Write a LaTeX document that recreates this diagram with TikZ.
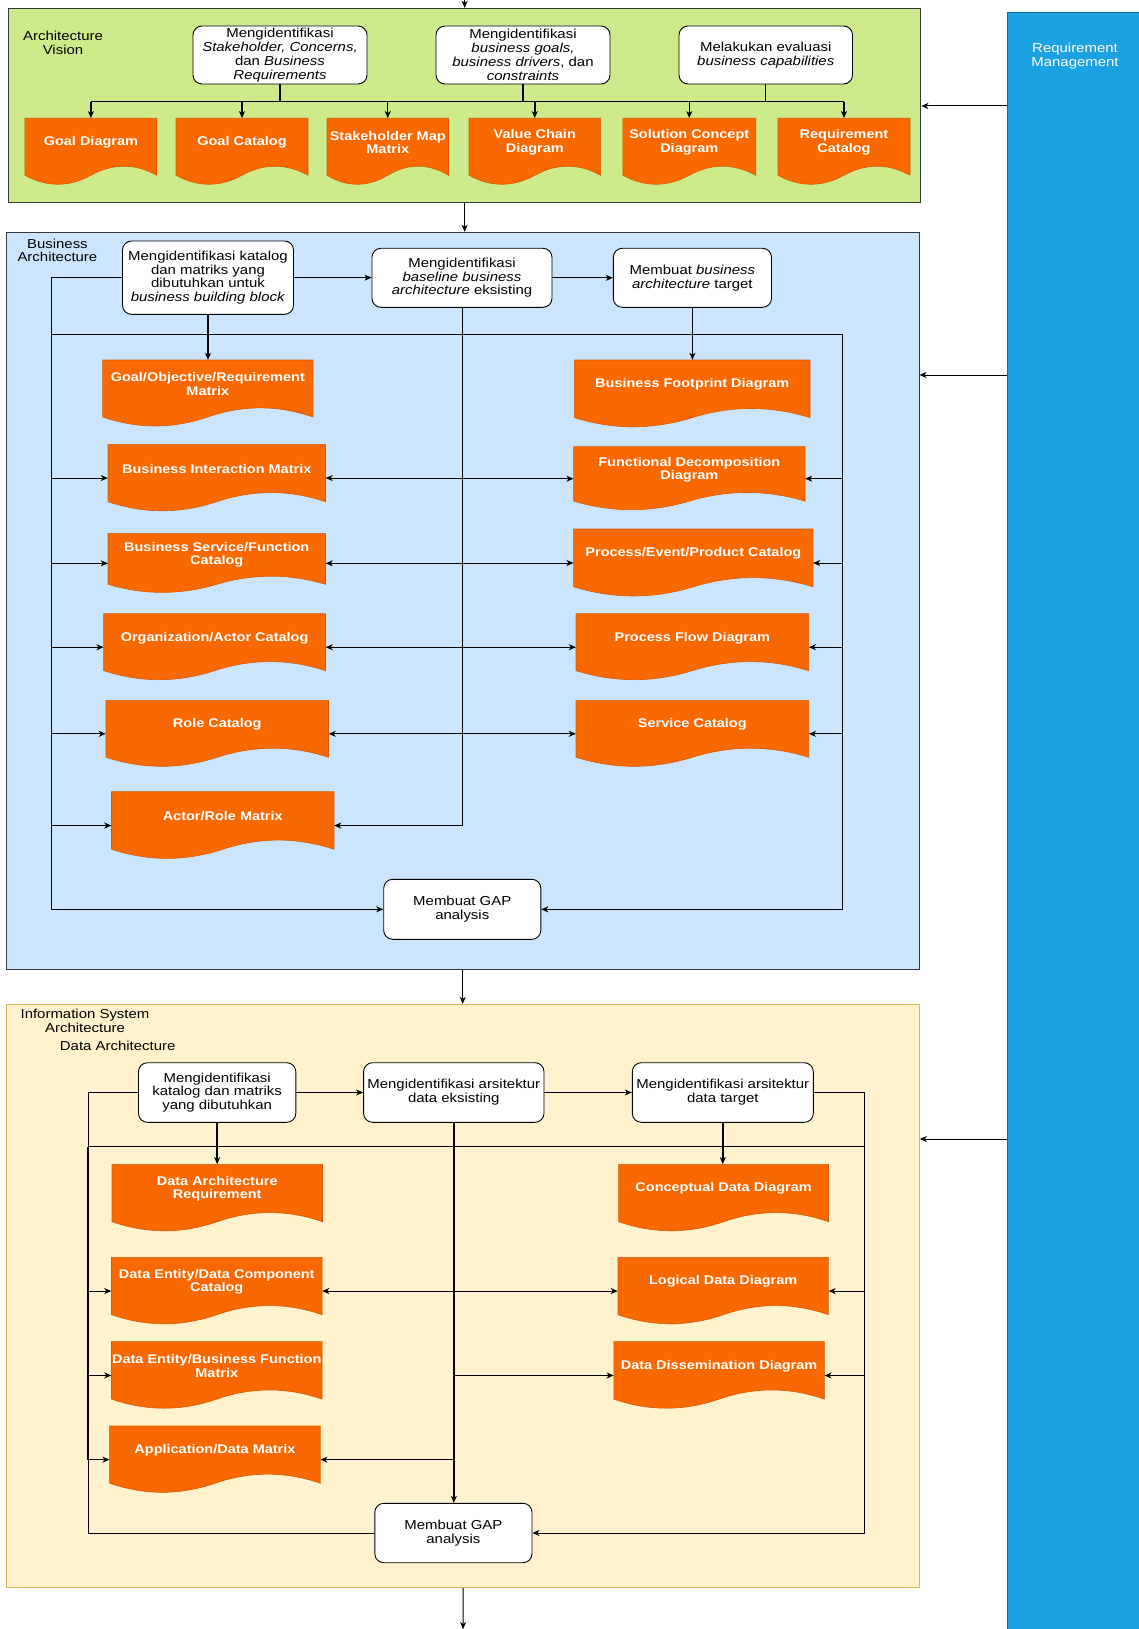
\documentclass[tikz,border=0pt]{standalone}
\usepackage{fontspec}
\setmainfont{Liberation Sans}[FakeStretch=1.15]
\usetikzlibrary{arrows.meta,fit}

\definecolor{avgreen}{HTML}{CDEB8B}
\definecolor{bablue}{HTML}{CCE5FF}
\definecolor{isyellow}{HTML}{FFF2CC}
\definecolor{isborder}{HTML}{D6B656}
\definecolor{secborder}{HTML}{36393D}
\definecolor{rmblue}{HTML}{1BA1E2}
\definecolor{rmborder}{HTML}{006EAF}
\definecolor{docorange}{HTML}{FA6800}
\definecolor{docborder}{HTML}{D65A00}

\tikzset{
  section/.style={draw=secborder, line width=1pt, inner sep=0pt},
  wbox/.style={draw=black, fill=white, rounded corners=9pt, line width=0.9pt,
    inner sep=0pt, align=center, font=\fontsize{13}{13.8}\selectfont},
  docfill/.style={fill=docorange, draw=docborder, line width=0.6pt},
  docframe/.style={inner sep=0pt, draw=none},
  doctext/.style={text=white, align=center, inner sep=0pt,
    font=\fontsize{12.6}{13.4}\selectfont\bfseries},
  sectitle/.style={align=center, inner sep=0pt, font=\fontsize{13}{13.6}\selectfont},
  conn/.style={line width=1pt},
  arr/.style={conn, -{Stealth[length=7pt,width=6pt,inset=2pt]}},
  heavy/.style={line width=1.8pt},
}

% rounded process box: name, left, top, right, bottom, label
\newcommand\taskbox[6]{%
  \node[wbox, minimum width={#4-#2}, minimum height={#5-#3}] (#1)
    at ({(#2+#4)/2},{(#3+#5)/2}) {#6};
}

% document shape: name, left, top, right, height, label
\newcommand\docshape[6]{%
  \path[docfill] (#2,#3) -- (#4,#3) -- (#4,{#3+0.85*#5})
    .. controls ({#2+0.8333*(#4-#2)},{#3+0.67*#5}) and ({#2+0.6667*(#4-#2)},{#3+0.67*#5}) .. ({#2+0.5*(#4-#2)},{#3+0.85*#5})
    .. controls ({#2+0.3333*(#4-#2)},{#3+1.03*#5}) and ({#2+0.1667*(#4-#2)},{#3+1.03*#5}) .. (#2,{#3+0.85*#5}) -- cycle;
  \node[docframe, fit={(#2,#3) (#4,{#3+#5})}] (#1) {};
  \node[doctext] (#1-t) at ({(#2+#4)/2},{#3+0.36*#5}) {#6};
}

\begin{document}
\begin{tikzpicture}[x=1pt,y=-1pt]
\fill[white] (0,0) rectangle (1139,1629);
\useasboundingbox (0,0) rectangle (1139,1629);

% ---- phase containers ----
\node[section, fill=avgreen, fit={(8.4,8.3) (920.8,202.7)}] (av) {};
\node[section, fill=bablue, fit={(6.5,232.3) (919,969.3)}] (ba) {};
\node[section, fill=isyellow, draw=isborder, fit={(6.9,1004.3) (919.3,1587.7)}] (isa) {};
\node[fill=rmblue, draw=rmborder, line width=1pt, inner sep=0pt, fit={(1007.6,12.7) (1150,1640)}] (rm) {};

\node[sectitle] (av-t) at (63,43) {Architecture\\Vision};
\node[sectitle] (ba-t) at (57.4,250.5) {Business\\Architecture};
\node[sectitle] (isa-t) at (85,1021) {Information System\\Architecture};
\node[sectitle] (da-t) at (117.7,1046) {Data Architecture};
\node[sectitle, text=white] (rm-t) at (1075,56) {Requirement\\Management};

% ---- Architecture Vision ----
\taskbox{v1}{193}{26}{367}{84}{Mengidentifikasi\\\textit{Stakeholder, Concerns,}\\dan \textit{Business}\\\textit{Requirements}}
\taskbox{v2}{436}{26}{610}{84}{Mengidentifikasi\\\textit{business goals,}\\\textit{business drivers}, dan\\\textit{constraints}}
\taskbox{v3}{679}{26}{852.5}{84}{Melakukan evaluasi\\\textit{business capabilities}}

\docshape{gd}{24.9}{118.3}{156.9}{67}{Goal Diagram}
\docshape{gc}{176}{118.3}{308}{67}{Goal Catalog}
\docshape{smm}{327}{118.3}{448.5}{67}{Stakeholder Map\\Matrix}
\docshape{vcd}{469}{118.3}{600.6}{67}{Value Chain\\Diagram}
\docshape{scd}{622.8}{118.3}{755.7}{67}{Solution Concept\\Diagram}
\docshape{rc}{778}{118.3}{910}{67}{Requirement\\Catalog}

% ---- Business Architecture ----
\taskbox{b1}{122.5}{241}{293.5}{314.3}{Mengidentifikasi katalog\\dan matriks yang\\dibutuhkan untuk\\\textit{business building block}}
\taskbox{b2}{372}{248.3}{552}{307.3}{Mengidentifikasi\\\textit{baseline business}\\\textit{architecture} eksisting}
\taskbox{b3}{613.3}{248.3}{771.5}{307.3}{Membuat \textit{business}\\\textit{architecture} target}
\taskbox{bgap}{383.7}{879.3}{540.8}{939.3}{Membuat GAP\\analysis}

\docshape{gor}{102.6}{360}{313}{67}{Goal/Objective/Requirement\\Matrix}
\docshape{bim}{108}{444.3}{325.5}{67.5}{Business Interaction Matrix}
\docshape{bsf}{108}{533.3}{325.5}{60}{Business Service/Function\\Catalog}
\docshape{oac}{103.7}{613.7}{325.5}{67}{Organization/Actor Catalog}
\docshape{rlc}{106}{700.3}{328.5}{67}{Role Catalog}
\docshape{arm}{111.5}{791.7}{334}{67.7}{Actor/Role Matrix}
\docshape{bfd}{574.4}{360}{810}{67.8}{Business Footprint Diagram}
\docshape{fdd}{573.7}{446.7}{805}{64}{Functional Decomposition\\Diagram}
\docshape{pep}{573.7}{529}{813}{68}{Process/Event/Product Catalog}
\docshape{pfd}{576}{613.7}{808.7}{67}{Process Flow Diagram}
\docshape{svc}{576}{700.3}{808.7}{67}{Service Catalog}

% ---- Data Architecture ----
\taskbox{d1}{138.5}{1062.7}{295.8}{1122.3}{Mengidentifikasi\\katalog dan matriks\\yang dibutuhkan}
\taskbox{d2}{363.6}{1062.7}{544}{1122.3}{Mengidentifikasi arsitektur\\data eksisting}
\taskbox{d3}{632.3}{1062.7}{813.3}{1122.3}{Mengidentifikasi arsitektur\\data target}
\taskbox{dgap}{374.8}{1503.3}{532}{1562.7}{Membuat GAP\\analysis}

\docshape{dar}{112}{1164.3}{322.5}{67.5}{Data Architecture\\Requirement}
\docshape{cdd}{618.7}{1164.3}{828.5}{67.5}{Conceptual Data Diagram}
\docshape{dedc}{111.5}{1257.3}{322}{67.5}{Data Entity/Data Component\\Catalog}
\docshape{ldd}{618}{1257.3}{828.4}{67.5}{Logical Data Diagram}
\docshape{debf}{111.5}{1341.7}{322}{67.5}{Data Entity/Business Function\\Matrix}
\docshape{ddd}{613.8}{1341.7}{824.3}{67.5}{Data Dissemination Diagram}
\docshape{adm}{109.7}{1426}{320.2}{67.3}{Application/Data Matrix}

% ---- bus positions ----
\coordinate (vbus) at (0,101.7);
\coordinate (blx) at (51.6,0);
\coordinate (brx) at (842.4,0);
\coordinate (bh) at (0,334);
\coordinate (dlx) at (88,0);
\coordinate (drx) at (864.3,0);
\coordinate (dh) at (0,1146.7);
\coordinate (rm1) at (0,106);
\coordinate (rm2) at (0,375);
\coordinate (rm3) at (0,1139);
\coordinate (topin) at (464.6,0);
\coordinate (botout) at (463.1,1629);

% ---- phase flow ----
\draw[arr] (topin) -- (av.north);
\draw[arr] (av.south) -- (av.south |- ba.north);
\draw[arr] (ba.south) -- (ba.south |- isa.north);
\draw[arr] (isa.south) -- (botout);
\draw[arr] (rm.west |- rm1) -- (av.east |- rm1);
\draw[arr] (rm.west |- rm2) -- (ba.east |- rm2);
\draw[arr] (rm.west |- rm3) -- (isa.east |- rm3);

% ---- vision connectors ----
\draw[conn, line width=1.4pt] (v1.south) -- (v1.south |- vbus);
\draw[conn, line width=1.4pt] (v2.south) -- (v2.south |- vbus);
\draw[conn, line width=1.4pt] (v3.south) -- (v3.south |- vbus);
\draw[conn, line width=1.4pt] (gd.north |- vbus) -- (rc.north |- vbus);
\foreach \n in {gd,gc,smm,vcd,scd,rc}
  \draw[arr, line width=1.4pt] (\n.north |- vbus) -- (\n.north);

% ---- business connectors ----
\draw[arr] (b1.east) -- (b1.east -| b2.west);
\draw[arr] (b2.east) -- (b2.east -| b3.west);
\draw[arr] (b1.west) -- (b1.west -| blx) -- (bgap.west -| blx) -- (bgap.west);
\draw[arr] (bh -| blx) -- (bh -| brx) -- (bgap.east -| brx) -- (bgap.east);
\draw[arr, heavy] (b1.south) -- (b1.south |- gor.north);
\draw[arr, heavy] (b3.south) -- (b3.south |- bfd.north);
\draw[arr] (b2.south) -- (b2.south |- arm.east) -- (arm.east);
\foreach \n in {bim,bsf,oac,rlc,arm}
  \draw[arr] (\n.west -| blx) -- (\n.west);
\foreach \n in {bim,bsf,oac,rlc}
  \draw[arr] (\n.east -| b2.south) -- (\n.east);
\foreach \n in {fdd,pep,pfd,svc} {
  \draw[arr] (\n.west -| b2.south) -- (\n.west);
  \draw[arr] (\n.east -| brx) -- (\n.east);
}

% ---- data connectors ----
\draw[arr] (d1.east) -- (d1.east -| d2.west);
\draw[arr] (d2.east) -- (d2.east -| d3.west);
\draw[conn] (d1.west) -- (d1.west -| dlx) -- (dgap.west -| dlx) -- (dgap.west);
\draw[conn, line width=1.7pt] (dh -| dlx) -- (dlx |- adm.west);
\draw[arr] (d3.east) -- (d3.east -| drx) -- (dgap.east -| drx) -- (dgap.east);
\draw[conn] (dh -| dlx) -- (dh -| drx);
\draw[arr, heavy] (d1.south) -- (d1.south |- dar.north);
\draw[arr, heavy] (d3.south) -- (d3.south |- cdd.north);
\draw[arr, line width=1.5pt] (d2.south) -- (d2.south |- dgap.north);
\foreach \n in {dedc,debf,adm}
  \draw[arr] (\n.west -| dlx) -- (\n.west);
\foreach \n in {dedc,adm}
  \draw[arr] (\n.east -| d2.south) -- (\n.east);
\foreach \n in {ldd,ddd} {
  \draw[arr] (\n.west -| d2.south) -- (\n.west);
  \draw[arr] (\n.east -| drx) -- (\n.east);
}
\end{tikzpicture}
\end{document}
